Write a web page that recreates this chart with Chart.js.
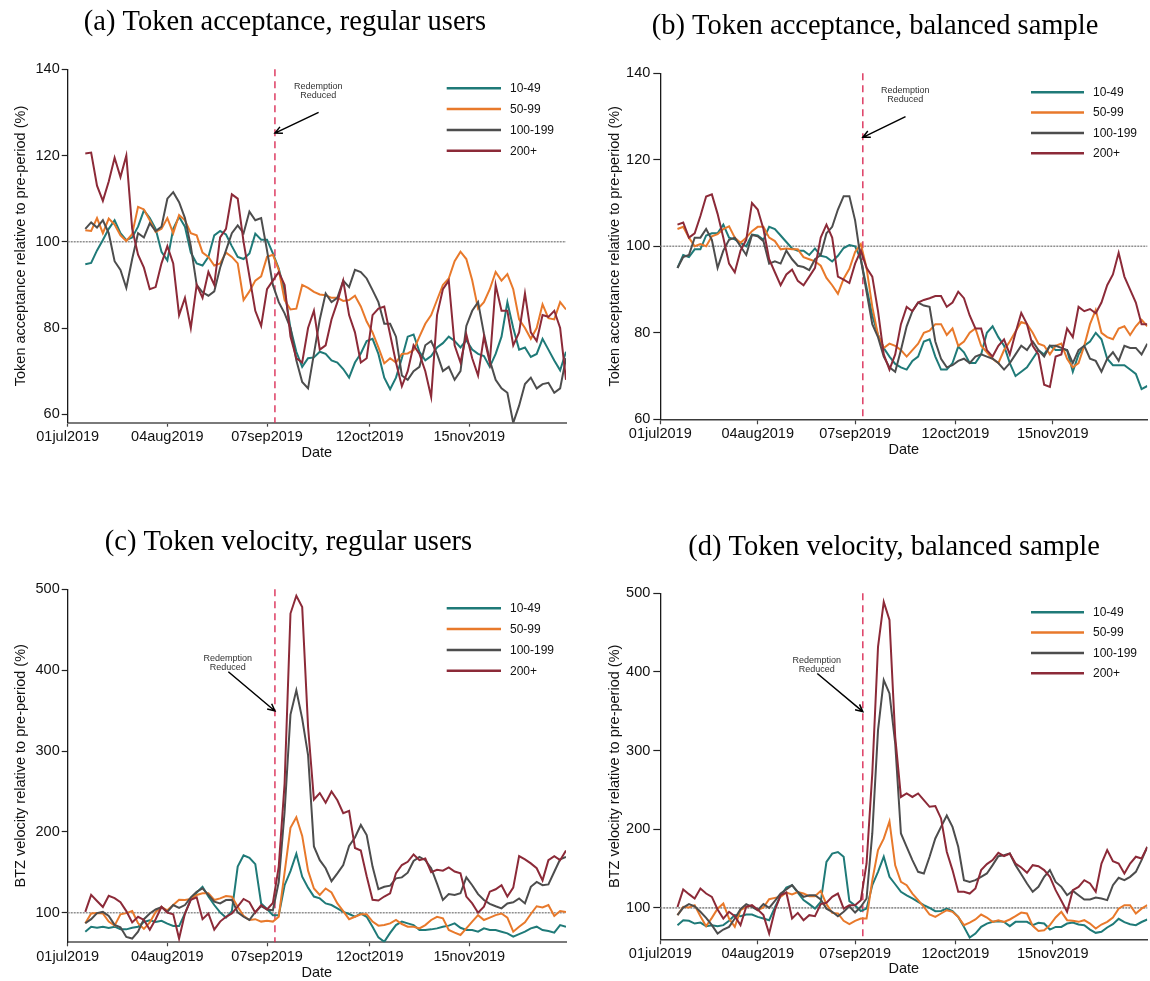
<!DOCTYPE html>
<html>
<head>
<meta charset="utf-8">
<title>Token acceptance and velocity by user group</title>
<script src="https://cdn.jsdelivr.net/npm/chart.js@4.4.1/dist/chart.umd.min.js"></script>
<style>
  html, body { margin: 0; padding: 0; background: #ffffff; }
  body { width: 1150px; height: 981px; position: relative; overflow: hidden; }
  canvas { position: absolute; display: block; }
</style>
</head>
<body>
<canvas id="panelA" width="575" height="490" style="left:0px;top:0px"></canvas>
<canvas id="panelB" width="575" height="490" style="left:575px;top:0px"></canvas>
<canvas id="panelC" width="575" height="500" style="left:0px;top:490px"></canvas>
<canvas id="panelD" width="575" height="500" style="left:575px;top:490px"></canvas>
<script>
// Days since 01jul2019 for every plotted observation (7-day smoothed series)
const days = [6, 8, 10, 12, 14, 16, 18, 20, 22, 24,
  26, 28, 30, 32, 34, 36, 38, 40, 42, 44,
  46, 48, 50, 52, 54, 56, 58, 60, 62, 64,
  66, 68, 70, 72, 74, 76, 78, 80, 82, 84,
  86, 88, 90, 92, 94, 96, 98, 100, 102, 104,
  106, 108, 110, 112, 114, 116, 118, 120, 122, 124,
  126, 128, 130, 132, 134, 136, 138, 140, 142, 144,
  146, 148, 150, 152, 154, 156, 158, 160, 162, 164,
  166, 168, 170];

const xTickDays = [0, 34, 68, 103, 137];
const xTickLabels = ['01jul2019', '04aug2019', '07sep2019', '12oct2019', '15nov2019'];
const acceptanceTicks = [60, 80, 100, 120, 140];
const velocityTicks = [100, 200, 300, 400, 500];
const preperiodLevel = 100;
const redemptionCutDay = 70.7;
const groupLabels = ['10-49', '50-99', '100-199', '200+'];

// (a) Token acceptance, regular users
const accReg_10_49 = [94.8, 95.1, 98, 100.4, 103, 105, 102, 100.4, 101, 103.5,
  107.3, 105.5, 103, 97.7, 95.7, 103, 105.8, 103.5, 97.5, 95,
  94.5, 96.5, 101.5, 102.5, 101.7, 99, 96.5, 96, 97.3, 101.9,
  100.5, 100.5, 97.3, 93.8, 88.5, 80, 74.5, 71, 73, 73.2,
  74.5, 74, 72.5, 72, 70.5, 68.5, 72, 74.1, 77, 77.5,
  74, 68.5, 65.8, 68.5, 73, 78, 78.5, 74.5, 72.5, 73.5,
  75.5, 76.5, 78, 77, 75.5, 77.2, 75, 74, 73.5, 71,
  74, 78, 86, 80, 75, 75.5, 73.3, 74, 77.5, 75,
  72.5, 70.2, 74.5];
const accReg_50_99 = [102.7, 102.5, 105.5, 102, 105.4, 104, 101.5, 100.2, 101.8, 108.1,
  107.5, 105, 102.3, 103, 105.5, 102, 106.2, 105, 102, 101.5,
  97.5, 96.5, 94.5, 95, 97.5, 96.5, 95, 86.5, 88.5, 91,
  92, 96.5, 97, 93.5, 86.5, 84.3, 84.5, 90, 89.3, 88.4,
  87.8, 87.6, 87, 87, 86.3, 86.5, 87.5, 85, 81.5, 79,
  75.5, 71.8, 73, 72, 74, 74.1, 74.9, 78, 81, 83,
  86.5, 90, 91.5, 95.5, 97.7, 96, 91.1, 84.5, 86, 89,
  93, 91, 92.5, 89, 82, 80, 77.5, 80, 85.5, 82.3,
  82, 86, 84.3];
const accReg_100_199 = [103, 104.5, 103.3, 105, 102, 95.5, 93.5, 89.3, 96, 102,
  101, 104.3, 102.5, 103.5, 110, 111.5, 109.2, 105.5, 99, 90,
  88.3, 87.5, 88.5, 94, 98, 102, 103.8, 102, 107, 105,
  105.5, 98, 90, 86, 83.4, 80, 72.5, 67.5, 66, 74,
  82, 88, 86, 87, 91, 89.5, 93.5, 93, 91.5, 88.8,
  86, 81, 81, 78, 69, 68, 70, 71, 76, 77,
  74, 70, 71, 68, 70, 80.5, 84, 86, 78.7, 72.5,
  68, 66, 65, 58, 62, 67, 68.5, 66, 67, 67.3,
  65, 66, 73];
const accReg_200 = [120.5, 120.7, 113, 109.5, 114, 119.5, 115, 120, 103, 97,
  94, 89, 89.5, 95, 99, 95, 83, 87, 80, 90,
  87, 93, 90, 101, 103, 111, 110, 100, 92, 84,
  80.5, 89, 91, 93, 90, 78, 73, 72, 80, 84,
  75, 76, 82, 86, 91, 83, 79, 72, 73, 83,
  84.5, 85, 78.5, 72, 66.5, 70, 76, 74, 70, 64,
  83, 89, 91, 76, 72, 78.5, 73, 69, 78, 72,
  90, 84, 84, 76, 79, 88, 79, 77, 83, 82.6,
  84, 80, 68];

// (b) Token acceptance, balanced sample
const accBal_10_49 = [95, 98, 97.5, 99.3, 99.3, 102.5, 103, 103, 105, 102,
  101.6, 100.8, 100, 102.7, 102.5, 101.5, 104.5, 104, 102.5, 101,
  99.5, 99, 99, 98, 99.5, 97.8, 97.5, 96.5, 97.8, 99.6,
  100.3, 100, 97, 90.5, 84, 79.5, 76.5, 74.5, 72.8, 72,
  71.5, 73.5, 74.5, 78, 78.5, 74.5, 71.5, 71.5, 73, 76.8,
  75.5, 73, 73, 75, 80, 81.5, 79, 77, 73, 70,
  71, 72, 74, 76, 75, 77, 76, 76, 76, 71,
  75, 77, 78, 80, 78.5, 74, 72.5, 72.5, 72.5, 71.5,
  70.5, 67, 67.7];
const accBal_50_99 = [104, 104.5, 102, 100, 100.5, 100, 102.3, 102.8, 104, 104.6,
  102, 100.8, 102, 103.5, 104.5, 104.5, 102, 101.2, 99.3, 99.5,
  99.3, 99.3, 97.5, 97, 96.5, 95.5, 92.7, 91, 89, 92.5,
  94.8, 98.7, 100.5, 95, 86, 79.5, 76.5, 77.5, 77, 76,
  74.5, 76, 77.5, 80, 80.5, 82, 82, 79.5, 81, 77,
  78, 80, 81, 77, 75.5, 74, 73, 76, 78, 80.3,
  82.5, 82, 80, 77.5, 77, 75, 77, 77.5, 74, 72,
  73, 77, 82, 85.3, 80, 79, 78.5, 81, 81.5, 79.5,
  81.5, 83, 81.5];
const accBal_100_199 = [95, 97.5, 98, 102, 102, 104, 101.5, 95, 99, 101.5,
  102, 100, 98, 102.6, 102.3, 101.2, 96, 96.5, 96, 99,
  97, 95.5, 95.2, 94.5, 97, 98, 103, 104.5, 108.5, 111.6,
  111.6, 106, 97, 89.5, 82, 79, 74.5, 72, 71, 76,
  81.5, 85, 87, 86.3, 86, 78, 74, 72, 72.5, 73.5,
  74, 73, 74.5, 75, 74.5, 74, 73, 71.5, 73, 75,
  77, 76, 78, 76, 74.5, 77, 77, 76.5, 76, 73,
  76, 77, 74, 73.5, 71, 74, 75.5, 73.5, 77, 76.5,
  76.5, 75, 77.5];
const accBal_200 = [105, 105.5, 102, 103, 107, 111.5, 112, 107.5, 102, 96,
  94, 99, 101.5, 110, 108.5, 104, 97, 94, 91, 93.5,
  94.6, 92, 91, 93, 95, 102, 105, 102, 93, 92.3,
  91.5, 96, 99, 95, 93, 85, 75, 71.5, 75, 82,
  86, 85, 87, 87.6, 88, 88.5, 88.5, 86, 87, 89.5,
  88, 84, 81, 81, 76, 74.5, 77, 78.5, 75, 80,
  84.6, 82, 77, 75, 68, 67.5, 74.5, 75, 81, 79,
  86, 85, 85.5, 84.5, 87, 91, 93.5, 98.5, 93, 90,
  87, 82, 82];

// (c) Token velocity, regular users
const velReg_10_49 = [76.5, 82.7, 81.5, 82.7, 81, 82.7, 79.4, 79.4, 81.5, 82.7,
  88.5, 90.5, 88.5, 90, 86.5, 83.5, 83.5, 99, 116.5, 125,
  132, 120, 109.5, 100.4, 94, 102, 157, 171, 168, 160,
  111.5, 104.5, 97, 97, 134, 151.5, 173, 144.5, 131, 120,
  117.7, 111.5, 109.5, 105.4, 101, 98.4, 95, 99, 95, 82.7,
  69.5, 64, 75, 84.7, 89, 86.8, 84.7, 78.6, 78.6, 79.4,
  80.6, 82.7, 84, 86.8, 81.4, 78.6, 78.6, 76.5, 80.6, 78.6,
  78.6, 76.5, 74.4, 70.3, 73.6, 76.5, 80.6, 82.7, 78.6, 77.3,
  75.3, 84.7, 82.7];
const velReg_50_99 = [87, 99, 99.5, 99, 89, 84, 98, 99.5, 102, 87,
  80, 88, 101, 107, 103, 109.5, 116, 115.7, 117, 122,
  124, 124, 115.7, 117.7, 120.6, 119.8, 107.4, 96, 91, 92,
  89, 90, 89, 95, 150, 205, 218, 195, 152, 130,
  122, 130, 125, 111.5, 102, 92, 95, 98, 98, 89,
  84, 84.7, 86.8, 91, 86, 82.7, 82.7, 80.6, 84.7, 91,
  95, 93, 78.6, 75.3, 72.4, 80.6, 89, 97, 91, 94,
  97, 99, 94, 76.5, 82.7, 88, 98.4, 108, 106.6, 109.5,
  96, 102, 101];
const velReg_100_199 = [87, 92, 99.5, 101, 96, 85, 82, 70, 68, 76.5,
  92, 99, 104, 107, 101, 109.5, 106, 109.5, 119, 126,
  130, 122, 113.6, 111.5, 115.7, 116, 100.4, 95, 91, 101,
  108, 104, 103, 138, 225, 345, 375, 340, 295, 182,
  165, 155, 139, 148.7, 159, 182.5, 193, 208.5, 196, 157,
  129, 132, 133.4, 142.5, 143.7, 149.5, 164, 169, 165, 155,
  136, 115.7, 123, 121.9, 124, 143.7, 134, 123, 115.7, 111,
  108, 105.4, 111.5, 112.8, 117.7, 111.5, 132, 138, 134, 135,
  150.7, 166, 169];
const velReg_200 = [101, 122, 114.5, 107, 121, 118, 113, 102, 88, 95,
  91, 79, 92, 107.4, 100, 98, 68, 99, 116, 119,
  92, 99, 79, 89, 95, 99, 107.4, 117, 113, 100,
  109.5, 104, 112, 157, 260, 470, 492, 478, 330, 240,
  248, 236, 250, 239, 223, 226, 180, 177, 145, 116,
  115, 120, 124, 149, 159, 163, 172, 165, 167, 150,
  153, 152, 156, 151, 148.7, 120, 111.5, 100, 107.4, 126,
  129, 134, 120, 131, 170, 166, 161, 155, 140, 165,
  170, 165, 177];

// (d) Token velocity, balanced sample
const velBal_10_49 = [78, 84.3, 83.5, 80, 81.3, 76.7, 78, 76.7, 78, 83.5,
  90.7, 89.4, 91.5, 91.5, 88.5, 86.4, 84.3, 100.4, 115.3, 125.9,
  128.8, 119.5, 109.8, 104.7, 99, 107.6, 158.5, 169, 171, 165,
  108.5, 103, 96, 99, 128.8, 145.8, 165, 139.4, 130, 120.4,
  116, 112, 107.6, 103.4, 100, 95.8, 96, 99, 96, 88.5,
  75.8, 62.2, 67.3, 75.8, 80, 82.2, 83, 82.2, 76.7, 82.2,
  82.2, 82.2, 78, 80.9, 80, 72.4, 75.8, 75.8, 80, 81.3,
  78.8, 78, 72.4, 68.2, 69.5, 75, 79.2, 86, 81.8, 79.2,
  78, 82, 85.2];
const velBal_50_99 = [90.7, 101.3, 100.4, 103.4, 89.4, 76.7, 87.3, 99, 105.5, 86.4,
  75.8, 97, 101.3, 102.5, 97, 100.4, 111, 112.7, 114, 119.5,
  117, 120, 118.2, 114.8, 114.8, 121.6, 104.7, 93.6, 92.8, 83.5,
  79.2, 83.5, 86.4, 86.4, 135, 173.4, 188, 210, 154, 133,
  128.8, 118.2, 109.8, 101.3, 91.5, 88.5, 92.8, 97, 94.9, 88.5,
  78, 81.3, 85.2, 91.5, 87.7, 82.2, 84.3, 82.2, 85.2, 89.4,
  94, 92.8, 77.1, 70.7, 71.6, 78, 87.7, 94.9, 84.3, 83.5,
  82.2, 84.3, 80, 73.7, 78.8, 82.2, 87.7, 99, 103.4, 103.4,
  92.8, 99, 103.4];
const velBal_100_199 = [90.7, 100.4, 104.7, 102, 95, 87.3, 78, 67.3, 72.4, 75.8,
  86.4, 98.3, 104.7, 101.3, 97, 104.7, 100, 109, 118.2, 123.3,
  128.8, 120.4, 114, 116.1, 116.1, 110.6, 99, 95, 89.4, 95,
  102, 94, 101.3, 111.9, 194.6, 326, 389.7, 372.7, 309, 194.6,
  177.6, 160.7, 145.8, 143.7, 164.9, 188.2, 203, 217.5, 203, 177.6,
  135.2, 133, 135.2, 139.4, 143.7, 154.3, 165.7, 167, 169.1, 154.3,
  142.8, 131, 120.4, 126.7, 139.4, 148, 133, 126.7, 116.1, 121.6,
  116.1, 110.6, 110.6, 113.1, 111.9, 109.8, 128.8, 138.2, 135.2, 139.4,
  145.8, 160.7, 177.6];
const velBal_200 = [101, 123.3, 117.4, 111.9, 124.6, 118.2, 114, 97.9, 86.4, 95,
  89.4, 78, 101.3, 103.4, 97.9, 90.7, 67.3, 97, 116.1, 119.5,
  86.4, 93.6, 84.3, 90.7, 89.4, 104.7, 106.4, 114, 118.2, 99,
  103.4, 103.4, 109.8, 156.4, 271, 432, 489, 466, 317.6, 241,
  245.5, 241, 245.5, 237, 228.5, 229.4, 213.7, 171.3, 148, 120.4,
  120.4, 118.2, 124.6, 148, 155.6, 160.7, 170, 165.7, 169.1, 156.4,
  151.3, 144.5, 154.3, 153, 148, 139.4, 122.5, 108.9, 95, 122.5,
  126.7, 135.2, 131, 120.4, 156.4, 173.4, 159.4, 156.4, 143.7, 156.4,
  165, 162.8, 177.6];

// ---- styling ----
const SANS = '"Liberation Sans", Arial, Helvetica, sans-serif';
const SERIF = '"Liberation Serif", "Times New Roman", Times, serif';
const groupColors = ['#1f7a78', '#e8792b', '#4d4d4d', '#8c2a38'];

// draws the reference lines, panel heading, legend and the callout
const panelDecor = {
  id: 'panelDecor',
  beforeDatasetsDraw(chart, args, o) {
    const { ctx, chartArea: a, scales: { x, y } } = chart;
    ctx.save();
    const yRef = y.getPixelForValue(preperiodLevel);
    ctx.strokeStyle = '#8f8f8f';
    ctx.lineWidth = 1.6;
    ctx.setLineDash([2, 1]);
    ctx.beginPath();
    ctx.moveTo(a.left, yRef);
    ctx.lineTo(a.right, yRef);
    ctx.stroke();

    const xCut = x.getPixelForValue(redemptionCutDay);
    ctx.strokeStyle = '#d8204c';
    ctx.lineWidth = 1.3;
    ctx.setLineDash([7, 5]);
    ctx.beginPath();
    ctx.moveTo(xCut, a.top);
    ctx.lineTo(xCut, a.bottom);
    ctx.stroke();
    ctx.restore();
  },
  afterDraw(chart, args, o) {
    const { ctx, chartArea: a, scales: { x, y } } = chart;
    ctx.save();
    // heading
    ctx.font = '28.5px ' + SERIF;
    ctx.fillStyle = '#000';
    ctx.textAlign = 'center';
    ctx.textBaseline = 'alphabetic';
    ctx.fillText(o.heading, o.headingX, o.headingY);

    // legend
    ctx.font = '12px ' + SANS;
    ctx.textAlign = 'left';
    ctx.textBaseline = 'middle';
    chart.data.datasets.forEach((ds, i) => {
      const ly = a.top + o.legendTop + i * o.legendStep;
      ctx.strokeStyle = ds.borderColor;
      ctx.lineWidth = 2.5;
      ctx.setLineDash([]);
      ctx.beginPath();
      ctx.moveTo(a.right + o.legendLineFrom, ly);
      ctx.lineTo(a.right + o.legendLineTo, ly);
      ctx.stroke();
      ctx.fillStyle = '#111';
      ctx.fillText(ds.label, a.right + o.legendText, ly + 0.5);
    });

    // callout
    const tx = x.getPixelForValue(o.noteAt[0]);
    const ty = y.getPixelForValue(o.noteAt[1]);
    ctx.font = '9px ' + SANS;
    ctx.fillStyle = '#333';
    ctx.textAlign = 'center';
    ctx.fillText('Redemption', tx, ty);
    ctx.fillText('Reduced', tx, ty + 9);

    const x0 = x.getPixelForValue(o.arrowFrom[0]), y0 = y.getPixelForValue(o.arrowFrom[1]);
    const x1 = x.getPixelForValue(o.arrowTo[0]), y1 = y.getPixelForValue(o.arrowTo[1]);
    const ang = Math.atan2(y1 - y0, x1 - x0);
    ctx.strokeStyle = '#000';
    ctx.lineWidth = 1.5;
    ctx.beginPath();
    ctx.moveTo(x0, y0);
    ctx.lineTo(x1, y1);
    ctx.moveTo(x1 - 8 * Math.cos(ang - 0.45), y1 - 8 * Math.sin(ang - 0.45));
    ctx.lineTo(x1, y1);
    ctx.lineTo(x1 - 8 * Math.cos(ang + 0.45), y1 - 8 * Math.sin(ang + 0.45));
    ctx.stroke();
    ctx.restore();
  }
};

function buildPanel(canvasId, series, p) {
  const datasets = series.map((vals, i) => ({
    label: groupLabels[i],
    data: vals.map((v, k) => ({ x: days[k], y: v })),
    borderColor: groupColors[i],
    backgroundColor: groupColors[i],
    borderWidth: 2,
    pointRadius: 0,
    tension: 0,
    order: 3 - i
  }));
  return new Chart(document.getElementById(canvasId), {
    type: 'line',
    data: { datasets },
    options: {
      responsive: false,
      animation: false,
      events: [],
      layout: { padding: p.padding },
      plugins: {
        legend: { display: false },
        tooltip: { enabled: false },
        panelDecor: p.decor
      },
      scales: {
        x: {
          type: 'linear',
          min: 0,
          max: 170,
          afterBuildTicks: s => { s.ticks = xTickDays.map(v => ({ value: v })); },
          afterFit: s => { s.height = p.xHeight; },
          ticks: {
            autoSkip: false,
            maxRotation: 0,
            padding: p.xTickPad,
            color: '#111',
            font: { family: SANS, size: 14.5 },
            callback: v => xTickLabels[xTickDays.indexOf(v)]
          },
          grid: { drawOnChartArea: false, drawTicks: true, tickLength: p.xTickLen, color: '#444', tickWidth: 1.2 },
          border: { display: true, color: p.xAxisColor, width: p.xAxisWidth },
          title: { display: true, text: 'Date', color: '#111', font: { family: SANS, size: 14.5 }, padding: { top: 0, bottom: p.dateGap } }
        },
        y: {
          min: p.yMin,
          max: p.yMax,
          afterBuildTicks: s => { s.ticks = p.yTicks.map(v => ({ value: v })); },
          afterFit: s => { s.width = p.yWidth; },
          ticks: { padding: p.yTickPad, color: '#111', font: { family: SANS, size: 14.5 } },
          grid: { drawOnChartArea: false, drawTicks: true, tickLength: p.yTickLen, color: '#222', tickWidth: 1.2 },
          border: { display: true, color: '#1a1a1a', width: 1.3 },
          title: { display: true, text: p.yTitle, color: '#111', font: { family: SANS, size: 14.5 }, padding: { top: p.yTitleGap, bottom: 0 } }
        }
      }
    },
    plugins: [panelDecor]
  });
}

const acceptanceNote = { noteAt: [85.5, 136], arrowFrom: [85.6, 130], arrowTo: [70.7, 125.2] };
const velocityNote = { noteAt: [54.6, 414.5], arrowFrom: [54.8, 398], arrowTo: [70.7, 349.5] };

buildPanel('panelA', [accReg_10_49, accReg_50_99, accReg_100_199, accReg_200], {
  padding: { left: 0, top: 69.3, right: 9, bottom: 0 },
  xHeight: 67.3, yWidth: 67.7,
  xTickLen: 4, xTickPad: 2, yTickLen: 6, yTickPad: 2,
  xAxisColor: '#7a7a7a', xAxisWidth: 2,
  dateGap: 28, yTitleGap: 12,
  yMin: 58.05, yMax: 140, yTicks: acceptanceTicks,
  yTitle: 'Token acceptance relative to pre-period (%)',
  decor: Object.assign({
    heading: '(a) Token acceptance, regular users', headingX: 285, headingY: 30,
    legendTop: 19, legendStep: 20.8, legendLineFrom: -119.3, legendLineTo: -65, legendText: -56
  }, acceptanceNote)
});

buildPanel('panelB', [accBal_10_49, accBal_50_99, accBal_100_199, accBal_200], {
  padding: { left: 0, top: 73.3, right: 2.7, bottom: 0 },
  xHeight: 70.7, yWidth: 85.3,
  xTickLen: 5, xTickPad: 1, yTickLen: 7, yTickPad: 3,
  xAxisColor: '#3a3a3a', xAxisWidth: 1.4,
  dateGap: 31.3, yTitleGap: 31.3,
  yMin: 60, yMax: 140, yTicks: acceptanceTicks,
  yTitle: 'Token acceptance relative to pre-period (%)',
  decor: Object.assign({
    heading: '(b) Token acceptance, balanced sample', headingX: 300, headingY: 34,
    legendTop: 19, legendStep: 20.3, legendLineFrom: -116.3, legendLineTo: -63.3, legendText: -54.3
  }, acceptanceNote)
});

buildPanel('panelC', [velReg_10_49, velReg_50_99, velReg_100_199, velReg_200], {
  padding: { left: 0, top: 99.3, right: 9, bottom: 0 },
  xHeight: 47.7, yWidth: 67.7,
  xTickLen: 4, xTickPad: 2, yTickLen: 6, yTickPad: 2,
  xAxisColor: '#7a7a7a', xAxisWidth: 2,
  dateGap: 8.6, yTitleGap: 12,
  yMin: 63.4, yMax: 500, yTicks: velocityTicks,
  yTitle: 'BTZ velocity relative to pre-period (%)',
  decor: Object.assign({
    heading: '(c) Token velocity, regular users', headingX: 288.5, headingY: 60,
    legendTop: 19, legendStep: 20.8, legendLineFrom: -119.3, legendLineTo: -65, legendText: -56
  }, velocityNote)
});

buildPanel('panelD', [velBal_10_49, velBal_50_99, velBal_100_199, velBal_200], {
  padding: { left: 0, top: 103.3, right: 2.7, bottom: 0 },
  xHeight: 50.7, yWidth: 85.3,
  xTickLen: 5, xTickPad: 1, yTickLen: 7, yTickPad: 3,
  xAxisColor: '#3a3a3a', xAxisWidth: 1.4,
  dateGap: 12, yTitleGap: 31.3,
  yMin: 60, yMax: 500, yTicks: velocityTicks,
  yTitle: 'BTZ velocity relative to pre-period (%)',
  decor: Object.assign({
    heading: '(d) Token velocity, balanced sample', headingX: 319, headingY: 65,
    legendTop: 19, legendStep: 20.3, legendLineFrom: -116.3, legendLineTo: -63.3, legendText: -54.3
  }, velocityNote)
});
</script>
</body>
</html>
